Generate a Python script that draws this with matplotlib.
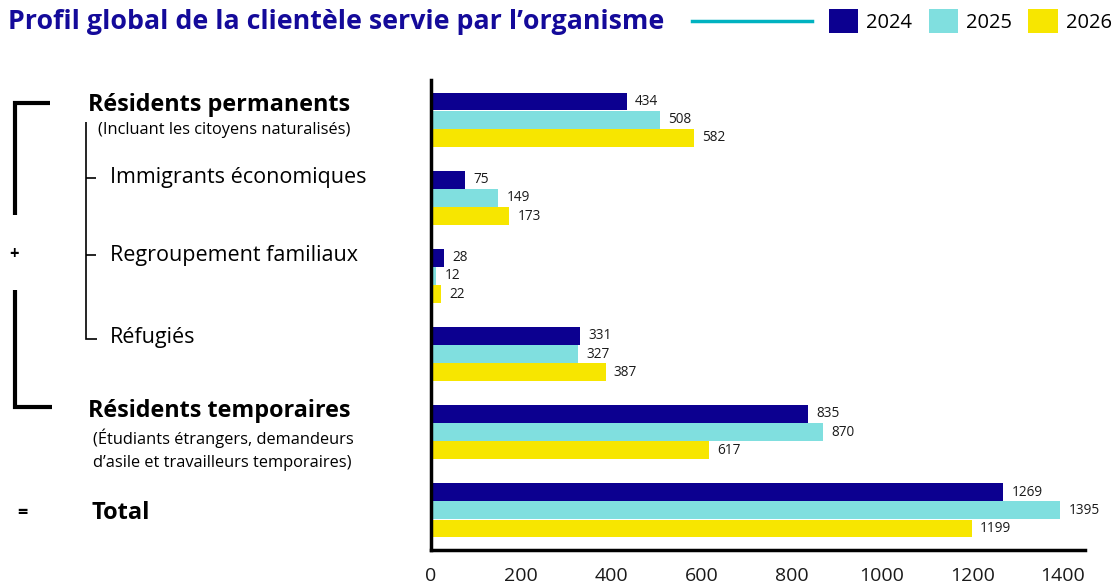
import matplotlib.pyplot as plt
import numpy as np
from matplotlib.lines import Line2D

plt.rcParams['font.family'] = ['Open Sans', 'DejaVu Sans']

W, H = 1112, 588

categories = ['Résidents permanents', 'Immigrants économiques', 'Regroupement familiaux',
              'Réfugiés', 'Résidents temporaires', 'Total']
years = ['2024', '2025', '2026']
v2024 = [434, 75, 28, 331, 835, 1269]
v2025 = [508, 149, 12, 327, 870, 1395]
v2026 = [582, 173, 22, 387, 617, 1199]
colors = ['#0c0090', '#80dfdf', '#f7e600']
xticks = [0, 200, 400, 600, 800, 1000, 1200, 1400]

navy = '#140a9a'


def px(x, y):
    # pixel position -> figure fraction
    return x / W, 1 - y / H


fig = plt.figure(figsize=(W / 100, H / 100), dpi=100)
ax = fig.add_axes([431 / W, 1 - 550 / H, (1085 - 431) / W, (550 - 80) / H])

y = np.arange(len(categories))
h = 0.225
bars = []
for i, (vals, c) in enumerate(zip([v2024, v2025, v2026], colors)):
    b = ax.barh(y + (i - 1) * 0.232, vals, height=h, color=c, label=years[i])
    bars.append(b)
    for rect, v in zip(b, vals):
        ax.annotate(str(v), (v, rect.get_y() + rect.get_height() / 2),
                    xytext=(6, 0), textcoords='offset points',
                    va='center', ha='left', fontsize=9.8, color='#1a1a1a')

ax.set_ylim(5.51, -0.51)
ax.set_xlim(0, 1450)
ax.set_yticks([])
ax.set_xticks(xticks)
ax.set_xticklabels([str(t) for t in xticks], fontsize=14, color='#1a1a1a')
ax.tick_params(axis='x', length=0, pad=12)
for s in ['top', 'right']:
    ax.spines[s].set_visible(False)
for s in ['left', 'bottom']:
    ax.spines[s].set_linewidth(2.5)
    ax.spines[s].set_color('black')

# title
fig.text(*px(8, 22), 'Profil global de la clientèle servie par l\u2019organisme',
         fontsize=19.3, fontweight='bold', color=navy, va='center', ha='left')

# legend
fig.add_artist(Line2D([692 / W, 812 / W], [1 - 21 / H] * 2, color='#00b2c0', lw=2.5))
fig.legend(handles=bars, labels=years, ncol=3, loc='center right',
           bbox_to_anchor=px(1112, 21), frameon=False, fontsize=14.5,
           handlelength=1.45, handleheight=1.4, handletextpad=0.42,
           columnspacing=0.8, borderaxespad=0, borderpad=0)

# left labels
fig.text(*px(88, 105), 'Résidents permanents', fontsize=16.8, fontweight='bold', va='center')
fig.text(*px(98, 130), '(Incluant les citoyens naturalisés)', fontsize=11.8, va='center')
fig.text(*px(110, 178), 'Immigrants économiques', fontsize=15.5, va='center')
fig.text(*px(110, 256), 'Regroupement familiaux', fontsize=15.5, va='center')
fig.text(*px(110, 338), 'Réfugiés', fontsize=15.5, va='center')
fig.text(*px(88, 411), 'Résidents temporaires', fontsize=16.8, fontweight='bold', va='center')
fig.text(*px(223, 438), '(Étudiants étrangers, demandeurs', fontsize=11.8, va='center', ha='center')
fig.text(*px(222, 463), 'd\u2019asile et travailleurs temporaires)', fontsize=11.8, va='center', ha='center')
fig.text(*px(91, 513), 'Total', fontsize=17, fontweight='bold', va='center')
fig.text(*px(14, 254), '+', fontsize=12, fontweight='bold', va='center', ha='center')
fig.text(*px(22, 513), '=', fontsize=13, fontweight='bold', va='center', ha='center')


def seg(xs, ys, lw):
    fig.add_artist(Line2D([x / W for x in xs], [1 - v / H for v in ys],
                          color='black', lw=lw, solid_capstyle='butt',
                          solid_joinstyle='miter'))


# thick bracket
seg([50, 15, 15], [103, 103, 215], 3)
seg([15, 15, 52], [290, 407, 407], 3)
# thin bracket
seg([86, 86, 97], [122, 339, 339], 1.2)
seg([86, 96], [178, 178], 1.2)
seg([86, 96], [255, 255], 1.2)

fig.savefig('out.png', dpi=100)
